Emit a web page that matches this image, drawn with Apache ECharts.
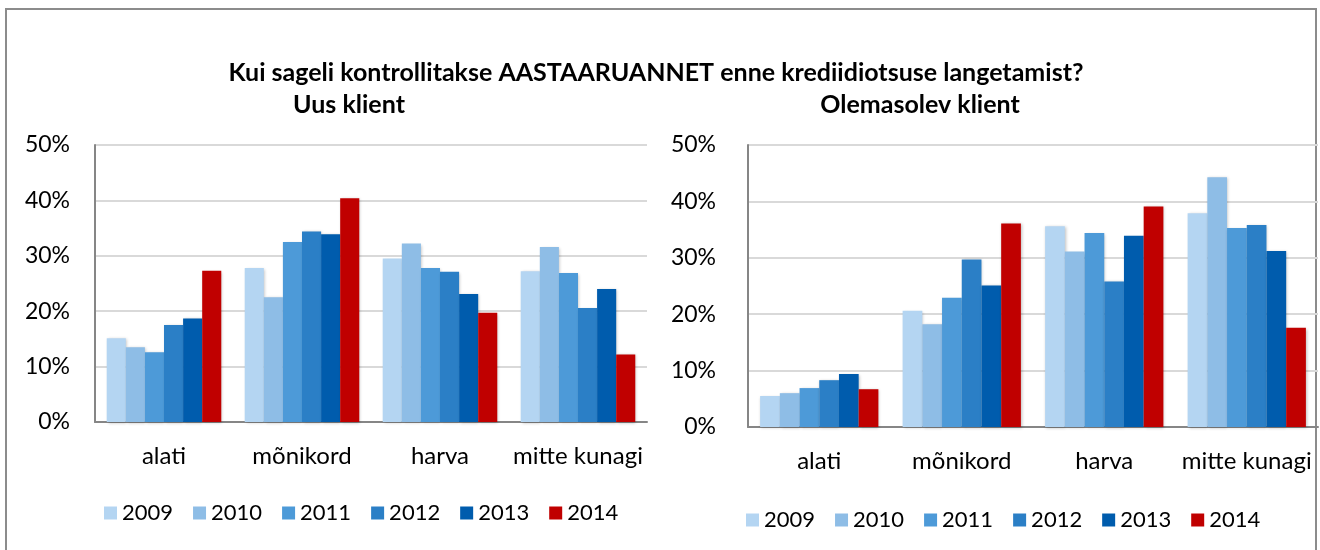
<!DOCTYPE html>
<html>
<head>
<meta charset="utf-8">
<script src="https://cdn.jsdelivr.net/npm/echarts@6/dist/echarts.min.js"></script>
<style>
  html, body { margin: 0; padding: 0; background: #fff; }
  #frame { position: absolute; left: 5px; top: 8px; width: 1312px; height: 560px; border: 2px solid #8c8c8c; box-sizing: border-box; }
  #chart { position: absolute; left: 0; top: 0; width: 1320px; height: 550px; }
</style>
</head>
<body>
<div id="frame"></div>
<div id="chart"></div>
<script>
// kategooriad ja aastad
const categories = ['alati', 'mõnikord', 'harva', 'mitte kunagi'];
const years = ['2009', '2010', '2011', '2012', '2013', '2014'];
const colors = ['#B4D5F2', '#8EBDE6', '#4D9AD8', '#2B7FC6', '#005CAD', '#C00000'];
const yTicks = [0, 10, 20, 30, 40, 50];

// Uus klient (%), rida = aasta
const newClient = [
  [15.1, 27.8, 29.5, 27.2],
  [13.5, 22.5, 32.2, 31.6],
  [12.6, 32.5, 27.8, 26.9],
  [17.5, 34.4, 27.1, 20.6],
  [18.7, 33.9, 23.1, 24.0],
  [27.3, 40.4, 19.7, 12.2]
];
// Olemasolev klient (%)
const existingClient = [
  [5.5, 20.6, 35.6, 37.9],
  [6.0, 18.2, 31.1, 44.3],
  [6.9, 22.9, 34.4, 35.3],
  [8.3, 29.7, 25.8, 35.8],
  [9.4, 25.1, 33.9, 31.2],
  [6.7, 36.1, 39.1, 17.6]
];

const FONT = 'Lato, "Open Sans", sans-serif';
const chart = echarts.init(document.getElementById('chart'));

function xAxis(gridIndex) {
  return {
    type: 'category', gridIndex: gridIndex, data: categories,
    axisLine: { lineStyle: { color: '#868686', width: 2 } },
    axisTick: { show: false },
    axisLabel: { color: '#000', fontSize: 24, fontFamily: FONT, margin: 22, interval: 0 }
  };
}
function yAxis(gridIndex, margin) {
  return {
    type: 'value', gridIndex: gridIndex, min: yTicks[0], max: yTicks[yTicks.length - 1], interval: 10,
    axisLine: { show: true, lineStyle: { color: '#868686', width: 2 } },
    axisTick: { show: false },
    splitLine: { lineStyle: { color: '#D9D9D9', width: 2 } },
    axisLabel: { color: '#000', fontSize: 23, fontFamily: FONT, margin: margin, formatter: '{value}%' }
  };
}
function makeSeries(data, idx) {
  return years.map((y, i) => ({
    name: y, type: 'bar', xAxisIndex: idx, yAxisIndex: idx,
    data: data[i], barGap: 0, barCategoryGap: '17%',
    itemStyle: { color: colors[i], shadowColor: 'rgba(0,0,0,0.25)', shadowBlur: 3, shadowOffsetX: 1, shadowOffsetY: 1 }
  }));
}
function legend(left, top) {
  return {
    data: years, left: left, top: top, icon: 'rect', itemWidth: 13, itemHeight: 13, itemGap: 20,
    textStyle: { color: '#000', fontSize: 22, fontFamily: FONT }
  };
}

chart.setOption({
  animation: false,
  color: colors,
  title: [
    { text: 'Kui sageli kontrollitakse AASTAARUANNET enne krediidiotsuse langetamist?', left: 651, top: 55, textAlign: 'center',
      textStyle: { fontSize: 25, fontWeight: 'bold', fontFamily: FONT, color: '#000' } },
    { text: 'Uus klient', left: 344, top: 87, textAlign: 'center',
      textStyle: { fontSize: 25, fontWeight: 'bold', fontFamily: FONT, color: '#000' } },
    { text: 'Olemasolev klient', left: 915, top: 87, textAlign: 'center',
      textStyle: { fontSize: 25, fontWeight: 'bold', fontFamily: FONT, color: '#000' } }
  ],
  legend: [legend(99, 497), legend(741, 504)],
  grid: [
    { left: 95, top: 145, width: 552, height: 277 },
    { left: 748, top: 145, width: 570, height: 282 }
  ],
  xAxis: [xAxis(0), xAxis(1)],
  yAxis: [yAxis(0, 25), yAxis(1, 32)],
  series: makeSeries(newClient, 0).concat(makeSeries(existingClient, 1))
});
</script>
</body>
</html>
